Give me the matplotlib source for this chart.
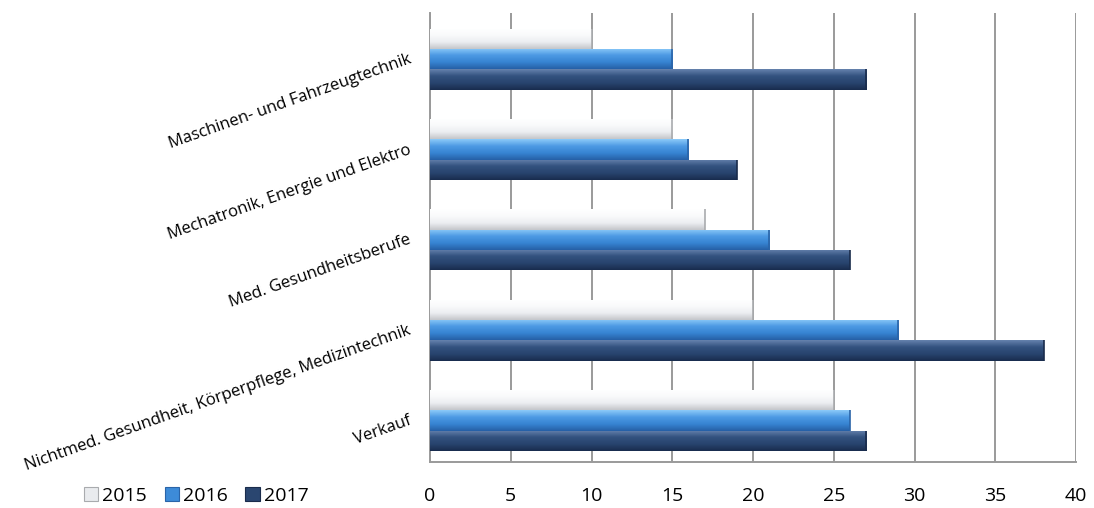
import numpy as np
import matplotlib
matplotlib.use("Agg")
import matplotlib.pyplot as plt
from matplotlib.colors import LinearSegmentedColormap
from matplotlib.patches import Patch

plt.rcParams['font.family'] = ['Open Sans', 'DejaVu Sans']

# ---- data (bottom to top) ----
categories = ["Verkauf",
              "Nichtmed. Gesundheit, Körperpflege, Medizintechnik",
              "Med. Gesundheitsberufe",
              "Mechatronik, Energie und Elektro",
              "Maschinen- und Fahrzeugtechnik"]
series_names = ["2015", "2016", "2017"]
values_2015 = [25, 20, 17, 15, 10]
values_2016 = [26, 29, 21, 16, 15]
values_2017 = [27, 38, 26, 19, 27]
x_ticks = [0, 5, 10, 15, 20, 25, 30, 35, 40]

series_values = [values_2015, values_2016, values_2017]
# gradient stops top -> bottom for each series
gradients = [
    ["#ffffff", "#f9fafb", "#eceef1", "#c4c6ca"],
    ["#8ccaf9", "#4d9ae4", "#3784d2", "#2660a6"],
    ["#6582ad", "#33527f", "#28446e", "#192c4e"],
]
mid_colors = ["#e9ebee", "#3d8bd8", "#2a4670"]
edge_colors = ["#a9abae", "#2a64a8", "#1a2c4c"]

fig = plt.figure(figsize=(10.94, 5.08), dpi=100)
ax = fig.add_axes([430/1094, (508-462)/508, (1076-430)/1094, (462-13)/508])

y = np.arange(len(categories))
bar_h = 0.225
offsets = [bar_h, 0.0, -bar_h]

for vals, off, grad, ec in zip(series_values, offsets, gradients, edge_colors):
    bars = ax.barh(y + off, vals, height=bar_h, facecolor="none",
                   edgecolor="none", zorder=3)
    cmap = LinearSegmentedColormap.from_list("g", grad)
    grad_img = np.linspace(0, 1, 64).reshape(-1, 1)
    for p in bars.patches:
        bb = p.get_bbox()
        im = ax.imshow(grad_img, cmap=cmap, aspect="auto", origin="upper",
                       extent=[bb.x0, bb.x1, bb.y0, bb.y1], zorder=3,
                       interpolation="bilinear")
        im.set_clip_path(p)
        # right end darker cap
        ax.plot([bb.x1, bb.x1], [bb.y0, bb.y1], color=ec, lw=1.2,
                zorder=4, solid_capstyle="butt")

ax.set_xlim(0, 40)
ax.set_ylim(-0.46, 4.51)
ax.set_xticks(x_ticks)
ax.set_xticklabels([str(t) for t in x_ticks], fontsize=14)
ax.set_yticks(y)
ax.set_yticklabels(categories, fontsize=12, rotation=19.5,
                   ha="right", va="center", rotation_mode="anchor")
ax.tick_params(axis="both", length=0, colors="black")
ax.tick_params(axis="x", pad=18)
ax.tick_params(axis="y", pad=14)

ax.grid(axis="x", color="#9a9a9a", lw=1.4, zorder=1)
ax.set_axisbelow(True)
for s in ["top", "right"]:
    ax.spines[s].set_visible(False)
ax.spines["left"].set_color("#9a9a9a")
ax.spines["left"].set_linewidth(1.4)
ax.spines["bottom"].set_color("#9a9a9a")
ax.spines["bottom"].set_linewidth(1.4)
ax.set_facecolor("white")

handles = [Patch(facecolor=c, edgecolor=e, lw=0.8) for c, e in zip(mid_colors, edge_colors)]
fig.legend(handles, series_names, loc="center left",
           bbox_to_anchor=(76/1094, 1 - 496/508), ncol=3, frameon=False,
           fontsize=14, handlelength=0.75, handleheight=0.75,
           handletextpad=0.2, columnspacing=0.9, borderaxespad=0)

fig.savefig("out.png", dpi=100)
